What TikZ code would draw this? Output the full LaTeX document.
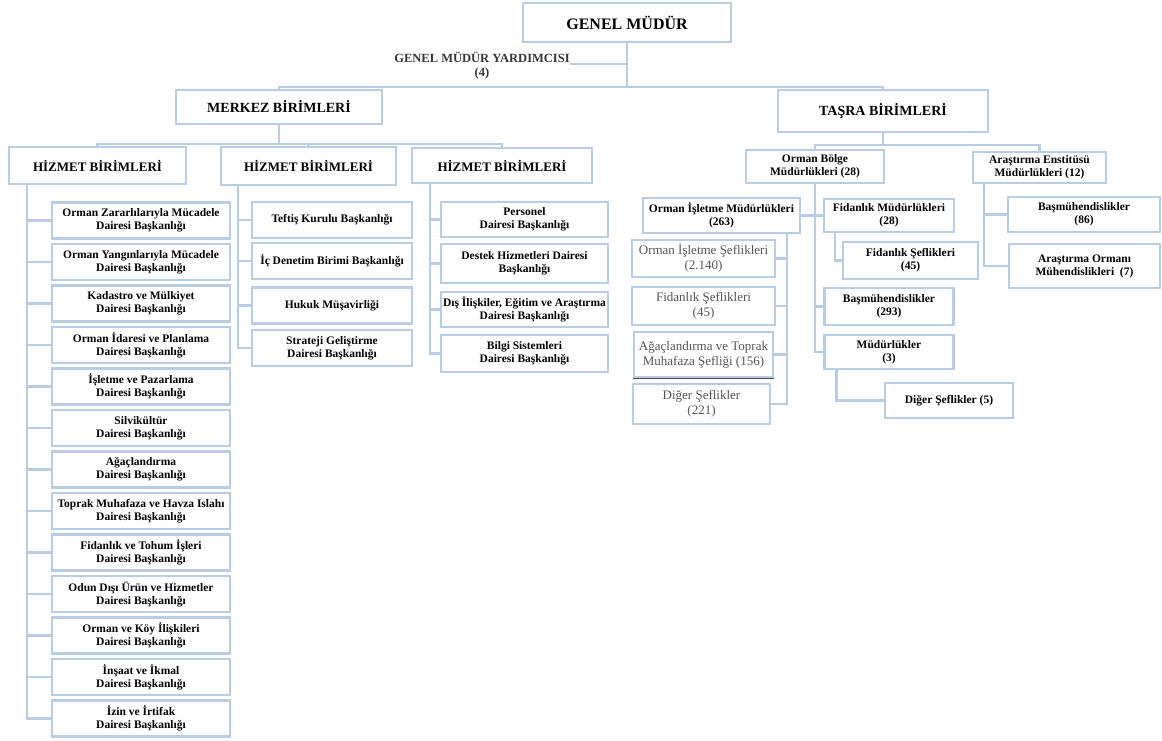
\documentclass[tikz,border=0pt]{standalone}
\usepackage{fontspec}
\setmainfont{Liberation Serif}
\usetikzlibrary{calc}
\definecolor{boxc}{RGB}{184,204,228}
\definecolor{graytxt}{RGB}{85,85,85}
\definecolor{gmytxt}{RGB}{55,55,55}
\begin{document}
\begin{tikzpicture}[x=1pt,y=-1pt,
  box/.style={draw=boxc, line width=2.2pt, fill=white, align=center, inner sep=2pt,
    font=\bfseries\fontsize{11.5}{13}\selectfont},
  graybox/.style={box, font=\fontsize{13}{15}\selectfont, text=graytxt},
  topbox/.style={box, font=\bfseries\fontsize{14}{16}\selectfont},
  hizbox/.style={box, font=\bfseries\fontsize{13}{15}\selectfont},
  conn/.style={draw=boxc, line width=2.2pt},
  sz/.style 2 args={minimum width=#1pt, minimum height=#2pt}
]
\useasboundingbox (0,0) rectangle (1162,740);

% ---- top ----
\node[box, sz={208}{39}, font=\bfseries\fontsize{16}{18}\selectfont] (gm) at (627,22.5) {GENEL MÜDÜR};
\node[font=\bfseries\fontsize{12.5}{14}\selectfont, text=gmytxt, align=center, inner sep=0pt] (gmy) at (482,66) {GENEL MÜDÜR YARDIMCISI\\(4)};
\node[topbox, sz={206}{34}] (merkez) at (279,107) {MERKEZ BİRİMLERİ};
\node[topbox, sz={210}{42}] (tasra) at (883,111) {TAŞRA BİRİMLERİ};
\coordinate (j0) at (627,64);
\coordinate (j1) at (627,87);
\draw[conn] (gm.south) -- (j1);
\draw[conn] (j0 -| gmy.east) -- (j0);
\draw[conn] (merkez.north) |- (j1) -| (tasra.north);

% ---- merkez ----
\node[hizbox, sz={177}{37}] (h1) at (97.5,165.5) {HİZMET BİRİMLERİ};
\node[hizbox, sz={175}{38}] (h2) at (308.5,166) {HİZMET BİRİMLERİ};
\node[hizbox, sz={180}{35}] (h3) at (502,165.5) {HİZMET BİRİMLERİ};
\coordinate (j2) at (279,144);
\draw[conn] (merkez.south) -- (j2);
\draw[conn] (h1.north) |- (j2) -| (h3.north);
\draw[conn] (j2 -| h2.north) -- (h2.north);

% left column
\node[box, sz={178}{36}] (l1) at (141,220.5) {Orman Zararlılarıyla Mücadele\\Dairesi Başkanlığı};
\node[box, sz={178}{36}] (l2) at (141,262) {Orman Yangınlarıyla Mücadele\\Dairesi Başkanlığı};
\node[box, sz={178}{36}] (l3) at (141,303.5) {Kadastro ve Mülkiyet\\Dairesi Başkanlığı};
\node[box, sz={178}{36}] (l4) at (141,345) {Orman İdaresi ve Planlama\\Dairesi Başkanlığı};
\node[box, sz={178}{36}] (l5) at (141,386.5) {İşletme ve Pazarlama\\Dairesi Başkanlığı};
\node[box, sz={178}{36}] (l6) at (141,428) {Silvikültür\\Dairesi Başkanlığı};
\node[box, sz={178}{36}] (l7) at (141,469.5) {Ağaçlandırma\\Dairesi Başkanlığı};
\node[box, sz={178}{36}] (l8) at (141,511) {Toprak Muhafaza ve Havza Islahı\\Dairesi Başkanlığı};
\node[box, sz={178}{36}] (l9) at (141,552.5) {Fidanlık ve Tohum İşleri\\Dairesi Başkanlığı};
\node[box, sz={178}{36}] (l10) at (141,594) {Odun Dışı Ürün ve Hizmetler\\Dairesi Başkanlığı};
\node[box, sz={178}{36}] (l11) at (141,635.5) {Orman ve Köy İlişkileri\\Dairesi Başkanlığı};
\node[box, sz={178}{36}] (l12) at (141,677) {İnşaat ve İkmal\\Dairesi Başkanlığı};
\node[box, sz={178}{36}] (l13) at (141,718.5) {İzin ve İrtifak\\Dairesi Başkanlığı};
\coordinate (v1) at ($(h1.south west)+(19,0)$);
\draw[conn] (v1) |- (l13.west);
\foreach \i in {1,...,12} \draw[conn] (l\i.west) -- (l\i.west -| v1);

% middle column
\node[box, sz={160}{36}] (m1) at (332,220) {Teftiş Kurulu Başkanlığı};
\node[box, sz={160}{36}] (m2) at (332,261) {İç Denetim Birimi Başkanlığı};
\node[box, sz={160}{36}] (m3) at (332,305.5) {Hukuk Müşavirliği};
\node[box, sz={160}{36}] (m4) at (332,348) {Strateji Geliştirme\\Dairesi Başkanlığı};
\coordinate (v2) at ($(h2.south west)+(18,0)$);
\draw[conn] (v2) |- (m4.west);
\foreach \i in {1,2,3} \draw[conn] (m\i.west) -- (m\i.west -| v2);

% third column
\node[box, sz={167}{35}] (p1) at (524.5,219.5) {Personel\\Dairesi Başkanlığı};
\node[box, sz={167}{39}] (p2) at (524.5,263.5) {Destek Hizmetleri Dairesi\\Başkanlığı};
\node[box, sz={167}{35}] (p3) at (524.5,309.5) {Dış İlişkiler, Eğitim ve Araştırma\\Dairesi Başkanlığı};
\node[box, sz={167}{37}] (p4) at (524.5,353.5) {Bilgi Sistemleri\\Dairesi Başkanlığı};
\coordinate (v3) at ($(h3.south west)+(19,0)$);
\draw[conn] (v3) |- (p4.west);
\foreach \i in {1,2,3} \draw[conn] (p\i.west) -- (p\i.west -| v3);

% ---- tasra ----
\node[box, sz={138}{33}] (ob) at (815,166.5) {Orman Bölge\\Müdürlükleri (28)};
\node[box, sz={133}{31}] (ae) at (1039.5,167.5) {Araştırma Enstitüsü\\Müdürlükleri (12)};
\coordinate (j3) at (883,145);
\draw[conn] (tasra.south) -- (j3);
\draw[conn] (ob.north) |- (j3) -| (ae.north);

\node[box, sz={157}{35}] (oim) at (721.5,215.5) {Orman İşletme Müdürlükleri\\(263)};
\node[box, sz={130}{33}] (fm) at (889,215.5) {Fidanlık Müdürlükleri\\(28)};
\node[box, sz={135}{37}] (fs1) at (910.5,260.5) {Fidanlık Şeflikleri\\(45)};
\node[box, sz={129}{37}] (bm1) at (889,306.5) {Başmühendislikler\\(293)};
\node[box, sz={129}{34}] (mu) at (889,352) {Müdürlükler\\(3)};
\node[box, sz={128}{35}] (ds5) at (949,400.5) {Diğer Şeflikler (5)};
\draw[conn] (oim.east) -- (fm.west);
\draw[conn] (ob.south) -- (ob.south |- mu.west) -- (mu.west);
\draw[conn] (bm1.west) -- (bm1.west -| ob.south);
\draw[conn] ($(fm.south west)+(12,0)$) |- (fs1.west);
\draw[conn] ($(mu.south west)+(13,0)$) |- (ds5.west);

\node[graybox, sz={143}{37}] (g1) at (703.5,258.5) {Orman İşletme Şeflikleri\\(2.140)};
\node[graybox, sz={143}{38}] (g2) at (703.5,306) {Fidanlık Şeflikleri\\(45)};
\node[graybox, sz={139}{45}] (g3) at (703.5,354.5) {Ağaçlandırma ve Toprak\\Muhafaza Şefliği (156)};
\node[graybox, sz={137}{40}] (g4) at (701.5,404) {Diğer Şeflikler\\(221)};
\draw[line width=1.2pt, black!70] (g3.south west) -- (g3.south east);
\coordinate (v4) at ($(oim.south east)+(-14,0)$);
\draw[conn] (v4) |- (g4.east);
\foreach \i in {1,2,3} \draw[conn] (g\i.east) -- (g\i.east -| v4);

\node[box, sz={152}{35}] (b86) at (1084,214.5) {Başmühendislikler\\(86)};
\node[box, sz={151}{44}] (aro) at (1084.5,266) {Araştırma Ormanı\\Mühendislikleri~~(7)};
\coordinate (v5) at ($(ae.south west)+(12,0)$);
\draw[conn] (v5) |- (aro.west);
\draw[conn] (b86.west) -- (b86.west -| v5);
\end{tikzpicture}
\end{document}
